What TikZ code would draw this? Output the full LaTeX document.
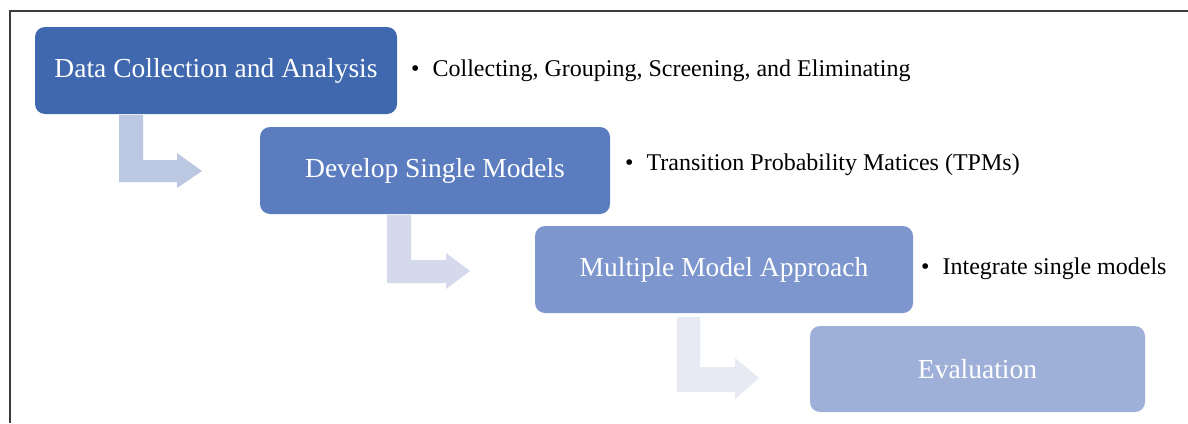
\documentclass[tikz,border=0pt]{standalone}
\usepackage{fontspec}
\setmainfont{Liberation Serif}
\definecolor{cA}{RGB}{64,104,174}
\definecolor{cB}{RGB}{91,125,192}
\definecolor{cC}{RGB}{125,150,205}
\definecolor{cD}{RGB}{159,176,216}
\definecolor{aA}{RGB}{188,199,226}
\definecolor{aB}{RGB}{212,218,236}
\definecolor{aC}{RGB}{231,234,243}
\definecolor{frame}{RGB}{60,60,60}
\tikzset{
  stepbox/.style={rounded corners=10pt, inner sep=0pt, text=white,
    font=\fontsize{27.5}{30}\selectfont},
  bullettext/.style={anchor=west, inner sep=0pt, text=black,
    font=\fontsize{24}{27}\selectfont},
}
\begin{document}
\begin{tikzpicture}[x=1pt,y=-1pt]
\useasboundingbox (0,0) rectangle (1188,423);
\fill[white] (0,0) rectangle (1188,423);
\draw[frame, line width=1.5pt] (10,423) -- (10,11) -- (1188,11);

% block arrows
\fill[aA] (119,115) -- (143,115) -- (143,160) -- (177,160) -- (177,153) -- (202,171)
  -- (177,188) -- (177,182) -- (119,182) -- cycle;
\fill[aB] (387,215) -- (411,215) -- (411,260) -- (446,260) -- (446,253) -- (470,271)
  -- (446,289) -- (446,283) -- (387,283) -- cycle;
\fill[aC] (677,317) -- (700,317) -- (700,367) -- (735,367) -- (735,358) -- (759,378)
  -- (735,399) -- (735,392) -- (677,392) -- cycle;

% boxes
\node[stepbox, fill=cA, minimum width=362pt, minimum height=87pt] (b1) at (216,70.5) {Data Collection and Analysis};
\node[stepbox, fill=cB, minimum width=350pt, minimum height=87pt] (b2) at (435,170.5) {Develop Single Models};
\node[stepbox, fill=cC, minimum width=378pt, minimum height=87pt] (b3) at (724,269.5) {Multiple Model Approach};
\node[stepbox, fill=cD, minimum width=335pt, minimum height=86pt] (b4) at (977.5,369) {Evaluation};

% bullet texts
\node[bullettext] (t1) at (411,71) {\textbullet\hspace{13pt}Collecting, Grouping, Screening, and Eliminating};
\node[bullettext] (t2) at (625,165) {\textbullet\hspace{13pt}Transition Probability Matices (TPMs)};
\node[bullettext] (t3) at (921,269) {\textbullet\hspace{13pt}Integrate single models};
\end{tikzpicture}
\end{document}
